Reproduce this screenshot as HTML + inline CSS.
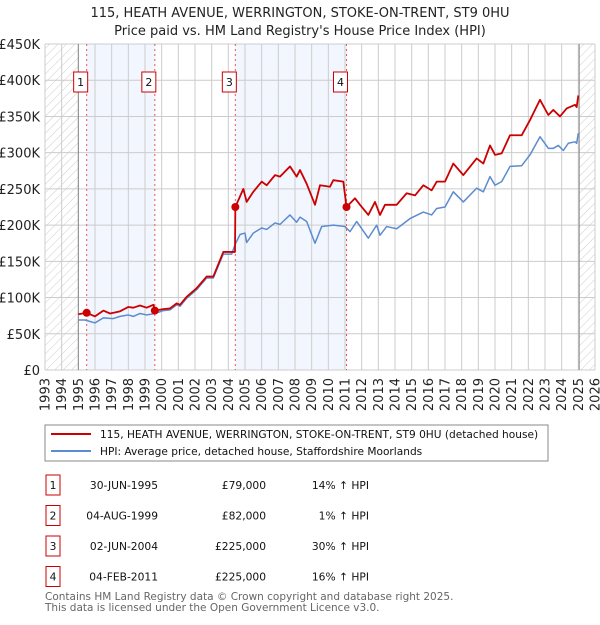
<!DOCTYPE html>
<html><head><meta charset="utf-8"><style>
body{margin:0;background:#fff;font-family:"Liberation Sans","DejaVu Sans",sans-serif;}
svg text{font-family:"DejaVu Sans","Liberation Sans",sans-serif;}
</style></head><body>
<svg id="c" width="600" height="620" viewBox="0 0 600 620" xmlns="http://www.w3.org/2000/svg">
<defs>
<pattern id="hatch" width="6" height="6" patternUnits="userSpaceOnUse" patternTransform="rotate(45)"><line x1="0" y1="0" x2="0" y2="6" stroke="#ccc" stroke-width="1"/></pattern>
</defs>
<text x="300" y="17" text-anchor="middle" font-size="13" fill="#222">115, HEATH AVENUE, WERRINGTON, STOKE-ON-TRENT, ST9 0HU</text>
<text x="300" y="35" text-anchor="middle" font-size="13" fill="#222">Price paid vs. HM Land Registry's House Price Index (HPI)</text>
<g id="plot"></g>
<rect x="45" y="425" width="503" height="36" fill="#fff" stroke="#888"/>
<line x1="51" y1="434" x2="91" y2="434" stroke="#cc0000" stroke-width="2"/>
<text x="100" y="438" font-size="10.6" fill="#111">115, HEATH AVENUE, WERRINGTON, STOKE-ON-TRENT, ST9 0HU (detached house)</text>
<line x1="51" y1="451" x2="91" y2="451" stroke="#5b8bd0" stroke-width="2"/>
<text x="100" y="455" font-size="10.6" fill="#111">HPI: Average price, detached house, Staffordshire Moorlands</text>
<g id="table" font-size="10.7" fill="#111"></g>
<text x="45" y="600" font-size="10.5" fill="#666">Contains HM Land Registry data © Crown copyright and database right 2025.</text>
<text x="45" y="611" font-size="10.5" fill="#666">This data is licensed under the Open Government Licence v3.0.</text>
</svg>
<script>
const yTicks=[0,50,100,150,200,250,300,350,400,450];
const yTickLabels=["£0","£50K","£100K","£150K","£200K","£250K","£300K","£350K","£400K","£450K"];
const xYears=[1993,1994,1995,1996,1997,1998,1999,2000,2001,2002,2003,2004,2005,2006,2007,2008,2009,2010,2011,2012,2013,2014,2015,2016,2017,2018,2019,2020,2021,2022,2023,2024,2025,2026];
const hpiYears=[1995.0,1995.4,1996.0,1996.5,1997.1,1997.5,1998.0,1998.3,1998.7,1999.1,1999.6,2000.1,2000.5,2000.9,2001.1,2001.5,2002.1,2002.7,2003.1,2003.7,2004.2,2004.4,2004.7,2005.0,2005.1,2005.5,2006.0,2006.3,2006.8,2007.1,2007.7,2008.1,2008.3,2008.7,2009.2,2009.6,2010.3,2011.0,2011.3,2011.7,2012.4,2012.9,2013.1,2013.5,2014.1,2014.9,2015.7,2016.2,2016.5,2017.0,2017.5,2018.1,2018.9,2019.3,2019.7,2020.0,2020.4,2020.9,2021.6,2022.1,2022.7,2023.2,2023.5,2023.8,2024.1,2024.4,2024.8,2024.9,2025.0];
const hpiValues=[69,69,65,72,71,74,76,74,78,76,78,82,83,90,88,99,111,127,127,160,160,173,187,189,176,189,196,194,203,201,214,204,211,205,175,198,200,198,191,205,182,200,186,198,195,209,218,214,223,225,246,232,251,246,267,255,260,281,282,297,322,306,306,310,303,313,315,313,327];
const priceYears=[1995.0,1995.5,1996.0,1996.5,1996.9,1997.5,1998.0,1998.3,1998.7,1999.1,1999.5,1999.6,2000.1,2000.5,2000.9,2001.1,2001.5,2002.1,2002.7,2003.1,2003.7,2004.2,2004.4,2004.42,2004.9,2005.1,2005.5,2006.0,2006.3,2006.8,2007.1,2007.7,2008.1,2008.3,2008.7,2009.2,2009.5,2010.1,2010.3,2010.9,2011.09,2011.6,2011.9,2012.4,2012.8,2013.1,2013.4,2014.1,2014.7,2015.2,2015.7,2016.2,2016.5,2017.0,2017.5,2018.1,2018.9,2019.3,2019.7,2020.0,2020.4,2020.9,2021.6,2022.1,2022.7,2023.2,2023.5,2023.9,2024.3,2024.8,2024.9,2025.0];
const priceValues=[77,79,74,82,78,81,87,86,89,86,90,82,84,85,92,90,101,113,129,129,163,163,163,225,250,232,246,260,255,269,267,281,267,276,257,228,255,253,262,260,225,237,228,214,232,214,228,228,244,241,255,248,260,260,285,269,292,285,310,297,299,324,324,345,373,352,359,350,361,366,363,379];
const saleLabels=["1","2","3","4"];
const saleYears=[1995.5,1999.59,2004.42,2011.09];
const saleValues=[79,82,225,225];
const saleDates=["30-JUN-1995","04-AUG-1999","02-JUN-2004","04-FEB-2011"];
const salePrices=["£79,000","£82,000","£225,000","£225,000"];
const saleDiffs=["14% ↑ HPI","1% ↑ HPI","30% ↑ HPI","16% ↑ HPI"];
const NS="http://www.w3.org/2000/svg";
const X0=45,X1=595,Y0=370,Y1=44,XMIN=1993,XMAX=2026,YMAX=450;
const sx=y=>X0+(y-XMIN)/(XMAX-XMIN)*(X1-X0);
const sy=v=>Y0-v/YMAX*(Y0-Y1);
const g=document.getElementById('plot');
function mk(tag,attrs,parent){const e=document.createElementNS(NS,tag);for(const k in attrs)e.setAttribute(k,attrs[k]);(parent||g).appendChild(e);return e;}
for(let i=0;i<saleYears.length;i+=2){
 const r=mk('rect',{x:sx(saleYears[i]),y:Y1,width:sx(saleYears[i+1])-sx(saleYears[i]),height:Y0-Y1,fill:'#eef3fd',opacity:0.75});
 
 
}
const h1=mk('rect',{x:sx(1993),y:Y1,width:sx(1995)-sx(1993),height:Y0-Y1,fill:'url(#hatch)'});


const h2=mk('rect',{x:sx(2025.05),y:Y1,width:sx(2026)-sx(2025.05),height:Y0-Y1,fill:'url(#hatch)'});


yTicks.forEach((t,i)=>{
 const l=mk('line',{x1:X0,x2:X1,y1:sy(t),y2:sy(t),stroke:'#ccc','stroke-width':1});
 
 
 const tx=mk('text',{x:40,y:sy(t)+5,'text-anchor':'end','font-size':13,fill:'#222'});
 tx.textContent=yTickLabels[i];
 
 
});
xYears.forEach(yr=>{
 const l=mk('line',{x1:sx(yr),x2:sx(yr),y1:Y1,y2:Y0,stroke:'#ccc','stroke-width':1});
 
 
 const tx=mk('text',{x:0,y:0,'text-anchor':'end','font-size':13,fill:'#222',transform:`translate(${sx(yr)+4.5},${Y0+8}) rotate(-90)`});
 tx.textContent=yr;
 
 
});
const b1=mk('line',{x1:sx(1995),x2:sx(1995),y1:Y1,y2:Y0,stroke:'#888','stroke-width':1});


const b2=mk('line',{x1:sx(2025.05),x2:sx(2025.05),y1:Y1,y2:Y0,stroke:'#888','stroke-width':1});


saleYears.forEach((yr,i)=>{
 const l=mk('line',{x1:sx(yr),x2:sx(yr),y1:Y1,y2:Y0,stroke:'#e55','stroke-width':1,'stroke-dasharray':'2,3'});
 
 
 const bx=mk('rect',{x:sx(yr)-13,y:72,width:14,height:20,fill:'#fff',stroke:'#cc0000'});
 
 
 const t=mk('text',{x:sx(yr)-6,y:86,'text-anchor':'middle','font-size':11,fill:'#111'});
 t.textContent=saleLabels[i];
 
 
});
const hp=mk('polyline',{points:hpiYears.map((y,i)=>sx(y)+','+sy(hpiValues[i])).join(' '),fill:'none',stroke:'#5b8bd0','stroke-width':1.5,'stroke-linejoin':'round'});


const pp=mk('polyline',{points:priceYears.map((y,i)=>sx(y)+','+sy(priceValues[i])).join(' '),fill:'none',stroke:'#cc0000','stroke-width':1.8,'stroke-linejoin':'round'});


saleYears.forEach((yr,i)=>{
 const c=mk('circle',{cx:sx(yr),cy:sy(saleValues[i]),r:4,fill:'#cc0000'});
 
 
});
const tb=document.getElementById('table');
saleLabels.forEach((lab,i)=>{
 const yy=485+i*30.5;
 const r=mk('rect',{x:46,y:yy-10,width:14,height:20,fill:'#fff',stroke:'#cc0000'},tb);
 
 
 const cols=[[53,'middle',lab,'table-row-number'],[158,'end',saleDates[i],'table-date'],[266,'end',salePrices[i],'table-price'],[369,'end',saleDiffs[i],'table-hpi-diff']];
 cols.forEach(c=>{
  const t=mk('text',{x:c[0],y:yy+4,'text-anchor':c[1]},tb);
  t.textContent=c[2];
  
  
 });
});
</script>
</body></html>
